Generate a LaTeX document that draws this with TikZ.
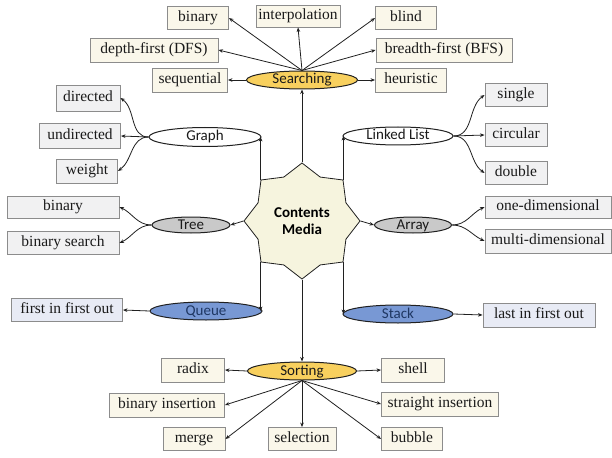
\documentclass[tikz,border=0pt]{standalone}
\usepackage{fontspec}
\newfontfamily\boxfont{Liberation Serif}[Ligatures=TeX]
\newfontfamily\labelfont{Carlito}
\usetikzlibrary{shapes.geometric,arrows.meta}

\definecolor{boxline}{HTML}{8C8C8C}
\definecolor{warmfill}{HTML}{FAF7EA}
\definecolor{greyfill}{HTML}{F1F1F2}
\definecolor{bluefill}{HTML}{E8EBF5}
\definecolor{gold}{HTML}{F8D05E}
\definecolor{midgrey}{HTML}{C9C9C9}
\definecolor{cornflower}{HTML}{7898D4}
\definecolor{navytext}{HTML}{1F3763}
\definecolor{inktext}{HTML}{1A1A1A}
\definecolor{wire}{HTML}{202020}
\definecolor{starfill}{HTML}{F6F4DE}

\tikzset{
  box/.style={draw=boxline, line width=0.9pt, inner sep=0pt,
    minimum height=23pt, text height=10.5pt, text depth=3.2pt,
    text=inktext},
  warmbox/.style={box, fill=warmfill},
  greybox/.style={box, fill=greyfill},
  bluebox/.style={box, fill=bluefill},
  ell/.style={ellipse, draw=wire, line width=1pt, inner sep=0pt,
    minimum height=18pt, text height=9pt, text depth=1pt, text=inktext},
  goldell/.style={ell, fill=gold},
  whiteell/.style={ell, fill=white},
  greyell/.style={ell, fill=midgrey},
  blueell/.style={ell, fill=cornflower, text=navytext},
  arr/.style={draw=wire, line width=0.8pt, -{Stealth[length=4.5pt,width=3.6pt]}},
}
% box labels in the serif face, oval labels in the sans face
\newcommand{\bx}[1]{{\boxfont\fontsize{15.5}{18}\selectfont #1}}
\newcommand{\el}[1]{{\labelfont\fontsize{15}{18}\selectfont #1}}

\begin{document}
\begin{tikzpicture}[x=1pt,y=-1pt]
\useasboundingbox (0,0) rectangle (612,457);

% central star
\node[star, star points=8, star point ratio=1.22, minimum size=116pt,
      inner sep=0pt, draw=wire, line width=0.8pt, fill=starfill,
      font=\labelfont\bfseries\fontsize{15}{17}\selectfont, text=black,
      align=center] (core) at (302,221) {Contents\\Media};

% ---------- Searching ----------
\node[goldell, minimum width=111pt] (search) at (302,80) {\el{Searching}};
\node[warmbox, minimum width=61pt]  (sbin)   at (198,18) {\bx{binary}};
\node[warmbox, minimum width=84pt, minimum height=22pt] (sint) at (298,16) {\bx{interpolation}};
\node[warmbox, minimum width=61pt]  (sblind) at (406,18) {\bx{blind}};
\node[warmbox, minimum width=128pt, minimum height=24pt] (sdfs) at (154,50) {\bx{depth-first (DFS)}};
\node[warmbox, minimum width=136pt, minimum height=24pt] (sbfs) at (444,50) {\bx{breadth-first (BFS)}};
\node[warmbox, minimum width=75pt, minimum height=24pt]  (sseq) at (190,80) {\bx{sequential}};
\node[warmbox, minimum width=71pt, minimum height=24pt]  (sheu) at (411,80) {\bx{heuristic}};

\draw[arr] (core.outer point 1) -- (search.south);
\draw[arr] (search.north) -- (sbin.east);
\draw[arr] (search.north) -- (sint.south);
\draw[arr] (search.north) -- (sblind.west);
\draw[arr] (search.north) -- (sdfs.east);
\draw[arr] (search.north) -- (sbfs.west);
\draw[arr] (search.west) -- (sseq.east);
\draw[arr] (search.east) -- (sheu.west);

% ---------- Graph ----------
\node[whiteell, minimum width=112pt, minimum height=19pt] (graph) at (205,137) {\el{Graph}};
\node[greybox, minimum width=64pt, minimum height=26pt] (gdir) at (88,98) {\bx{directed}};
\node[greybox, minimum width=81pt, minimum height=25pt] (gund) at (80,136) {\bx{undirected}};
\node[greybox, minimum width=61pt, minimum height=24pt] (gwei) at (87,171) {\bx{weight}};

\draw[arr] (core.outer point 2) -- (core.outer point 2 |- graph.east);
\draw[arr] (graph.west) to[out=180,in=-35] (gdir.east);
\draw[arr] (graph.west) -- (gund.east);
\draw[arr] (graph.west) to[out=180,in=35] (gwei.east);

% ---------- Tree ----------
\node[greyell, minimum width=78pt, minimum height=16pt] (tree) at (191,225) {\el{Tree}};
\node[greybox, minimum width=112pt, minimum height=22pt] (tbin) at (63,207) {\bx{binary}};
\node[greybox, minimum width=112pt] (tbs) at (63,243) {\bx{binary search}};

\draw[arr] (core.outer point 3) -- (tree.east);
\draw[arr] (tree.west) to[out=180,in=-25] (tbin.east);
\draw[arr] (tree.west) to[out=180,in=25] (tbs.east);

% ---------- Queue ----------
\node[blueell, minimum width=112pt] (queue) at (206,311) {\el{Queue}};
\node[bluebox, minimum width=111pt] (fifo) at (67,310) {\bx{first in first out}};

\draw[arr] (core.outer point 4) -- (core.outer point 4 |- queue.east);
\draw[arr] (queue.west) -- (fifo.east);

% ---------- Linked List ----------
\node[whiteell, minimum width=110pt] (llist) at (398,136) {\el{Linked List}};
\node[greybox, minimum width=62pt] (lsin) at (516,95) {\bx{single}};
\node[greybox, minimum width=62pt] (lcir) at (516,135) {\bx{circular}};
\node[greybox, minimum width=62pt] (ldou) at (516,173) {\bx{double}};

\draw[arr] (core.outer point 8) -- (core.outer point 8 |- llist.west);
\draw[arr] (llist.east) to[out=0,in=-145] (lsin.west);
\draw[arr] (llist.east) -- (lcir.west);
\draw[arr] (llist.east) to[out=0,in=145] (ldou.west);

% ---------- Array ----------
\node[greyell, minimum width=77pt, minimum height=16pt] (array) at (413,225) {\el{Array}};
\node[greybox, minimum width=126pt, minimum height=22pt] (aone) at (548,207) {\bx{one-dimensional}};
\node[greybox, minimum width=126pt, minimum height=24pt] (amul) at (548,241) {\bx{multi-dimensional}};

\draw[arr] (core.outer point 7) -- (array.west);
\draw[arr] (array.east) to[out=0,in=-155] (aone.west);
\draw[arr] (array.east) to[out=0,in=155] (amul.west);

% ---------- Stack ----------
\node[blueell, minimum width=110pt] (stack) at (398,314) {\el{Stack}};
\node[bluebox, minimum width=112pt, minimum height=24pt] (lifo) at (539,315) {\bx{last in first out}};

\draw[arr] (core.outer point 6) -- (core.outer point 6 |- stack.west);
\draw[arr] (stack.east) -- (lifo.west);

% ---------- Sorting ----------
\node[goldell, minimum width=109pt] (sort) at (302,371) {\el{Sorting}};
\node[warmbox, minimum width=63pt, minimum height=24pt]  (radix)  at (193,370) {\bx{radix}};
\node[warmbox, minimum width=115pt, minimum height=24pt] (binins) at (167,405) {\bx{binary insertion}};
\node[warmbox, minimum width=62pt]  (merge)  at (194,439) {\bx{merge}};
\node[warmbox, minimum width=68pt]  (select) at (302,439) {\bx{selection}};
\node[warmbox, minimum width=63pt, minimum height=24pt]  (shell)  at (413,370) {\bx{shell}};
\node[warmbox, minimum width=117pt, minimum height=24pt] (strins) at (440,404) {\bx{straight insertion}};
\node[warmbox, minimum width=61pt]  (bubble) at (412,439) {\bx{bubble}};

\draw[arr] (core.outer point 5) -- (sort.north);
\draw[arr] (sort.west) -- (radix.east);
\draw[arr] (sort.east) -- (shell.west);
\draw[arr] (sort.south) -- (binins.east);
\draw[arr] (sort.south) -- (merge.east);
\draw[arr] (sort.south) -- (select.north);
\draw[arr] (sort.south) -- (strins.west);
\draw[arr] (sort.south) -- (bubble.west);

\end{tikzpicture}
\end{document}
